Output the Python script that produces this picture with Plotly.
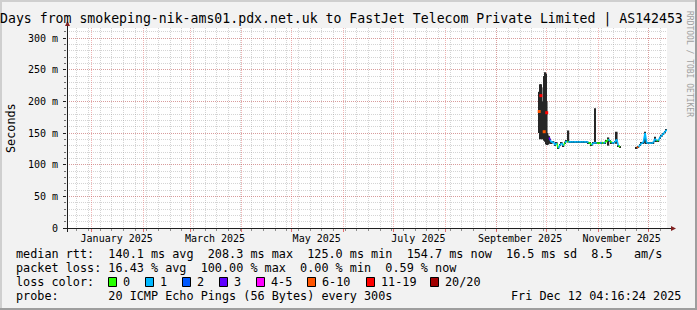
import plotly.graph_objects as go

# ---------------- data ----------------
title_text = "Days from smokeping-nik-ams01.pdx.net.uk to FastJet Telecom Private Limited | AS142453"
y_axis_title = "Seconds"
start_time = "2024-12-17 04:16:24"
end_time = "2025-12-12 04:16:24"

dates = [
    "2025-09-26 12:00", "2025-09-27 00:00", "2025-09-27 12:00", "2025-09-28 00:00",
    "2025-09-28 12:00", "2025-09-29 00:00", "2025-09-29 12:00", "2025-09-30 00:00",
    "2025-09-30 12:00", "2025-10-01 00:00", "2025-10-01 12:00", "2025-10-02 00:00",
    "2025-10-02 12:00",
    "2025-10-03", "2025-10-04", "2025-10-05",
    "2025-10-06", "2025-10-07", "2025-10-08", "2025-10-09", "2025-10-10",
    "2025-10-11", "2025-10-12", "2025-10-13", "2025-10-14", "2025-10-15",
    "2025-10-16", "2025-10-17", "2025-10-18", "2025-10-19", "2025-10-20",
    "2025-10-21", "2025-10-22", "2025-10-23", "2025-10-24", "2025-10-25",
    "2025-10-26", "2025-10-27", "2025-10-28", "2025-10-29", "2025-10-30",
    "2025-10-31", "2025-11-01", "2025-11-02", "2025-11-03", "2025-11-04",
    "2025-11-05", "2025-11-06", "2025-11-07", "2025-11-08", "2025-11-09",
    "2025-11-10", "2025-11-11", "2025-11-12", "2025-11-13", "2025-11-14",
    "2025-11-19",
    "2025-11-24", "2025-11-25", "2025-11-26", "2025-11-27", "2025-11-28",
    "2025-11-29", "2025-11-30", "2025-12-01", "2025-12-02", "2025-12-03",
    "2025-12-04", "2025-12-05", "2025-12-06", "2025-12-07", "2025-12-08",
    "2025-12-09", "2025-12-10", "2025-12-11", "2025-12-12",
]
median_ms = [
    184, None, 209, None,
    None, None, 152, None,
    None, 182, None, None,
    143,
    139, 135, 136,
    131, 134, 126, 131, 134,
    130, 135, 137, 136, 136,
    136, 136, 136, 136, 136,
    136, 136, 136, 136, 136,
    135, 134, 131, 134, 135,
    134, 134, 134, 135, 134,
    135, 137, 140, 137, 135,
    134, 136, 140, 130, 128,
    None,
    127, 128, 131, 134, 135,
    150, 134, 134, 134, 134,
    135, 141, 138, 138, 143,
    146, 149, 152, 155,
]
smoke_lo_ms = [
    150, 140, 150, 145,
    140, None, 138, 136,
    134, 132, 131, 132,
    133,
    136, 134, 135,
    130, 133, 125, 130, 133,
    129, 134, 136, 135, 135,
    135, 135, 135, 135, 135,
    135, 135, 135, 135, 135,
    134, 133, 130, 133, 133,
    133, 133, 133, 134, 133,
    134, 136, 130, 136, 134,
    133, 135, 133, 129, 127,
    None,
    126, 127, 130, 133, 134,
    134, 133, 133, 133, 133,
    134, 136, 137, 137, 142,
    145, 148, 151, 154,
]
smoke_hi_ms = [
    215, 227, 227, 222,
    200, None, 240, 246,
    244, 200, 150, 146,
    145,
    141, 136, 137,
    133, 135, 128, 132, 135,
    132, 136, 138, 154, 137,
    137, 137, 137, 137, 137,
    137, 137, 137, 137, 137,
    136, 135, 132, 135, 189,
    135, 135, 135, 136, 135,
    136, 138, 143, 138, 136,
    135, 137, 152, 131, 129,
    None,
    128, 129, 132, 135, 136,
    152, 135, 135, 135, 135,
    136, 144, 139, 139, 144,
    147, 150, 153, 156,
]
loss_level = [
    5, 7, 6, 7,
    7, 7, 5, 7,
    7, 6, 7, 7,
    3,
    1, 1, 1,
    1, 0, 1, 1, 1,
    0, 1, 0, 1, 1,
    1, 1, 1, 1, 1,
    1, 1, 1, 1, 1,
    0, 0, 1, 1, 1,
    0, 0, 1, 0, 1,
    0, 0, 1, 0, 1,
    1, 1, 1, 0, 0,
    7,
    5, 1, 1, 1, 1,
    1, 1, 1, 1, 1,
    1, 1, 0, 1, 1,
    1, 1, 1, 1,
]

loss_labels = ["0", "1", "2", "3", "4-5", "6-10", "11-19", "20/20"]
loss_colors = ["#26ff00", "#00b8ff", "#0059ff", "#5e00ff",
               "#ff00ff", "#ff5500", "#ff0000", "#a10000"]

y_tick_vals = [0, 50, 100, 150, 200, 250, 300]
y_tick_text = ["0", "50 m", "100 m", "150 m", "200 m", "250 m", "300 m"]
x_label_dates = ["2025-01-16", "2025-03-16", "2025-05-16",
                 "2025-07-16", "2025-09-15", "2025-11-15"]
x_label_text = ["January 2025", "March 2025", "May 2025",
                "July 2025", "September 2025", "November 2025"]

stats_rtt = "median rtt:  140.1 ms avg  208.3 ms max  125.0 ms min  154.7 ms now  16.5 ms sd  8.5   am/s"
stats_loss = "packet loss: 16.43 % avg  100.00 % max  0.00 % min  0.59 % now"
loss_caption = "loss color:"
probe_text = "probe:       20 ICMP Echo Pings (56 Bytes) every 300s"
timestamp_text = "Fri Dec 12 04:16:24 2025"
watermark = "RRDTOOL / TOBI OETIKER"

# ---------------- layout constants ----------------
W, H = 697, 310
PL, PR, PT, PB = 67, 667, 28, 228      # plot area in pixels
Y_TOP = 300 * (PB - PT) / (PB - 38)    # value at the top edge of the canvas
MONO = "DejaVu Sans Mono"
BACK = "#f2f2f2"
SHADE_A = "#cfcfcf"
SHADE_B = "#9e9e9e"
GRID = "rgba(143,143,143,0.38)"
MGRID = "rgba(222,79,79,0.42)"
TICK_RED = "rgba(222,79,79,0.8)"
ARROW = "#802020"
AXIS = "#1f1f1f"
DAY_MS = 86400000


def fx(px):
    return px / W


def fy(py):
    return 1 - py / H


def nb(s):
    return s.replace(" ", "\u00a0")


fig = go.Figure()

# smoke (spread of the pings)
sx, sb, sh = [], [], []
for d, lo, hi in zip(dates, smoke_lo_ms, smoke_hi_ms):
    if lo is None or hi is None:
        continue
    sx.append(d)
    sb.append(lo)
    sh.append(hi - lo)
fig.add_trace(go.Bar(x=sx, y=sh, base=sb, width=DAY_MS,
                     marker=dict(color="#262626", line=dict(width=0)),
                     hoverinfo="skip", showlegend=False))

# median line coloured by packet loss
n = len(dates)
segs = {k: ([], []) for k in range(len(loss_colors))}
for i in range(n - 1):
    if median_ms[i] is None or median_ms[i + 1] is None:
        continue
    xs, ys = segs[loss_level[i]]
    xs += [dates[i], dates[i + 1], None]
    ys += [median_ms[i], median_ms[i + 1], None]
for k, (xs, ys) in segs.items():
    if not xs:
        continue
    fig.add_trace(go.Scatter(x=xs, y=ys, mode="lines",
                             line=dict(color=loss_colors[k], width=1.6),
                             hoverinfo="skip", showlegend=False))

# isolated median values (neighbours lost) are drawn as small dots
ix, iy, ic = [], [], []
for i in range(n):
    if median_ms[i] is None:
        continue
    prev_ok = i > 0 and median_ms[i - 1] is not None
    next_ok = i < n - 1 and median_ms[i + 1] is not None
    if not prev_ok and not next_ok:
        ix.append(dates[i])
        iy.append(median_ms[i])
        ic.append(loss_colors[loss_level[i]])
fig.add_trace(go.Scatter(x=ix, y=iy, mode="markers",
                         marker=dict(symbol="square", size=3, color=ic, line=dict(width=0)),
                         hoverinfo="skip", showlegend=False))

# helper trace for the monthly grid axis
fig.add_trace(go.Scatter(x=[start_time, end_time], y=[None, None], xaxis="x2",
                         mode="lines", hoverinfo="skip", showlegend=False))

fig.update_layout(
    width=W, height=H,
    margin=dict(l=0, r=0, t=0, b=0),
    paper_bgcolor=BACK, plot_bgcolor="#ffffff",
    showlegend=False,
    font=dict(family=MONO, color="#000000"),
    xaxis=dict(
        domain=[fx(PL), fx(PR)], range=[start_time, end_time], type="date",
        tickmode="array", tickvals=x_label_dates, ticktext=x_label_text,
        ticks="", showgrid=False, zeroline=False, showline=False,
        tickfont=dict(family=MONO, size=10, color="#000000"),
        ticklabelstandoff=3, automargin=False,
        minor=dict(tickmode="linear", tick0="2025-01-06", dtick=7 * DAY_MS,
                   showgrid=True, gridcolor=GRID, griddash="1px,1px", gridwidth=1,
                   ticks="outside", ticklen=2, tickcolor="#8f8f8f"),
    ),
    xaxis2=dict(
        domain=[fx(PL), fx(PR)], range=[start_time, end_time], type="date",
        overlaying="x", anchor="y", side="bottom",
        tickmode="linear", tick0="2025-01-01", dtick="M1",
        showticklabels=False, ticks="outside", ticklen=3, tickcolor=TICK_RED,
        showgrid=True, gridcolor=MGRID, griddash="1px,1px", gridwidth=1,
        zeroline=False, showline=False, automargin=False,
    ),
    yaxis=dict(
        domain=[fy(PB), fy(PT)], range=[0, Y_TOP],
        tickmode="array", tickvals=y_tick_vals, ticktext=y_tick_text,
        ticks="outside", ticklen=3, tickcolor=AXIS,
        showgrid=True, gridcolor=MGRID, griddash="1px,1px", gridwidth=1,
        zeroline=False, showline=False, automargin=False,
        tickfont=dict(family=MONO, size=10, color="#000000"),
        ticklabelstandoff=3,
        minor=dict(tickmode="linear", tick0=0, dtick=10,
                   showgrid=True, gridcolor=GRID, griddash="1px,1px", gridwidth=1,
                   ticks="outside", ticklen=2, tickcolor="#6f6f6f"),
    ),
)

shapes = []
# 3D frame
shapes.append(dict(type="rect", xref="paper", yref="paper", x0=0, x1=1, y0=fy(2), y1=1,
                   fillcolor=SHADE_A, line=dict(width=0), layer="above"))
shapes.append(dict(type="rect", xref="paper", yref="paper", x0=0, x1=fx(2), y0=0, y1=1,
                   fillcolor=SHADE_A, line=dict(width=0), layer="above"))
shapes.append(dict(type="rect", xref="paper", yref="paper", x0=0, x1=1, y0=0, y1=fy(H - 2),
                   fillcolor=SHADE_B, line=dict(width=0), layer="above"))
shapes.append(dict(type="rect", xref="paper", yref="paper", x0=fx(W - 2), x1=1, y0=0, y1=1,
                   fillcolor=SHADE_B, line=dict(width=0), layer="above"))
# axis lines
shapes.append(dict(type="line", xref="paper", yref="paper",
                   x0=fx(PL - 4), x1=fx(PR + 6), y0=fy(PB + 0.5), y1=fy(PB + 0.5),
                   line=dict(color=AXIS, width=1), layer="above"))
shapes.append(dict(type="line", xref="paper", yref="paper",
                   x0=fx(PL + 0.5), x1=fx(PL + 0.5), y0=fy(PB + 4), y1=fy(PT - 3),
                   line=dict(color=AXIS, width=1), layer="above"))
# arrows
shapes.append(dict(type="path", xref="paper", yref="paper",
                   path=f"M {fx(PL - 2)} {fy(PT - 2)} L {fx(PL + 3)} {fy(PT - 2)} L {fx(PL + 0.5)} {fy(PT - 7)} Z",
                   fillcolor=ARROW, line=dict(width=0), layer="above"))
shapes.append(dict(type="path", xref="paper", yref="paper",
                   path=f"M {fx(PR + 4)} {fy(PB - 2)} L {fx(PR + 4)} {fy(PB + 3)} L {fx(PR + 9)} {fy(PB + 0.5)} Z",
                   fillcolor=ARROW, line=dict(width=0), layer="above"))

annotations = []


def text_at(x, y, s, size, xanchor="left", color="#000000", angle=0):
    annotations.append(dict(x=fx(x), y=fy(y), xref="paper", yref="paper",
                            text=nb(s), showarrow=False, xanchor=xanchor, yanchor="middle",
                            textangle=angle, borderpad=0, borderwidth=0,
                            font=dict(family=MONO, size=size, color=color)))


LEG = 11.8
text_at(683, 19, title_text, 13.2, xanchor="right")
text_at(11, 128, y_axis_title, LEG, xanchor="center", angle=-90)
text_at(689, 64, watermark, 8, xanchor="center", color="#a0a0a0", angle=90)
text_at(16, 254, stats_rtt, LEG)
text_at(16, 268, stats_loss, LEG)
text_at(16, 282, loss_caption, LEG)
text_at(16, 296, probe_text, LEG)
text_at(681, 296, timestamp_text, LEG, xanchor="right")

box_x = [108, 145, 182, 219, 256, 307, 366, 430]
for bx, lab, col in zip(box_x, loss_labels, loss_colors):
    shapes.append(dict(type="rect", xref="paper", yref="paper",
                       x0=fx(bx + 0.5), x1=fx(bx + 8.5), y0=fy(286.5), y1=fy(277.5),
                       fillcolor=col, line=dict(color="#000000", width=1), layer="above"))
    text_at(bx + 15, 282, lab, LEG)

fig.update_layout(shapes=shapes, annotations=annotations)

fig.write_html("out.html", config={"displayModeBar": False})
